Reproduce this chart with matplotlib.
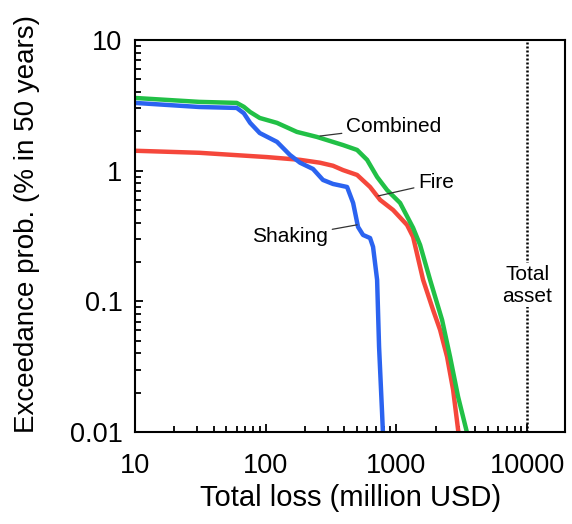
import numpy as np
import matplotlib
matplotlib.use("Agg")
import matplotlib.pyplot as plt

plt.rcParams['font.family'] = ['Liberation Sans', 'DejaVu Sans']

# values (loss in million USD, prob. in %)
combined_loss = [10, 31, 60, 68, 76, 90, 122, 173, 247, 390, 500, 596, 711,
                 847, 1066, 1340, 1516, 1807, 2233, 2570, 2960, 3470]
combined_prob = [3.6, 3.36, 3.30, 3.08, 2.81, 2.53, 2.32, 1.98, 1.81, 1.57,
                 1.44, 1.21, 0.895, 0.711, 0.566, 0.365, 0.27, 0.146, 0.072,
                 0.0376, 0.0186, 0.0098]

shaking_loss = [10, 31, 60, 68, 76, 90, 122, 153, 183, 230, 274, 327, 419,
                466, 508, 555, 628, 662, 711, 736, 776, 795]
shaking_prob = [3.30, 3.07, 3.02, 2.75, 2.32, 1.94, 1.66, 1.32, 1.15, 1.03,
                0.849, 0.791, 0.75, 0.566, 0.371, 0.322, 0.305, 0.261, 0.146,
                0.0448, 0.014, 0.008]

fire_loss = [10, 31, 102, 183, 260, 327, 390, 500, 628, 750, 942, 1205, 1340,
             1598, 1905, 2156, 2438, 2712, 2960, 3100]
fire_prob = [1.42, 1.37, 1.27, 1.21, 1.15, 1.09, 1.01, 0.927, 0.75, 0.597,
             0.50, 0.384, 0.311, 0.146, 0.0859, 0.0604, 0.0376, 0.021,
             0.0104, 0.008]

total_asset = 10000

fig = plt.figure(figsize=(5.72, 5.24), dpi=100)
ax = fig.add_axes([0.236, 0.1756, 0.752, 0.7481])

ax.plot(fire_loss, fire_prob, color='#f5473b', lw=3.2, solid_capstyle='butt')
ax.plot(combined_loss, combined_prob, color='#21c046', lw=3.2, solid_capstyle='butt')
ax.plot(shaking_loss, shaking_prob, color='#2b63f0', lw=3.2, solid_capstyle='butt')

ax.axvline(total_asset, color='black', lw=1.8, ls=(0, (0.8, 0.8)))

ax.set_xscale('log')
ax.set_yscale('log')
ax.set_xlim(10, 19500)
ax.set_ylim(0.01, 10)

ax.set_xticks([10, 100, 1000, 10000])
ax.set_xticklabels(['10', '100', '1000', '10000'])
ax.set_yticks([0.01, 0.1, 1, 10])
ax.set_yticklabels(['0.01', '0.1', '1', '10'])

for s in ax.spines.values():
    s.set_linewidth(1.5)
ax.tick_params(which='both', direction='in', top=False, right=False, width=1.3)
ax.tick_params(which='major', length=6, labelsize=19.5)
ax.tick_params(axis='x', which='major', pad=15)
ax.tick_params(axis='y', which='major', pad=9)
ax.tick_params(which='minor', length=4)

ax.set_xlabel('Total loss (million USD)', fontsize=21)
ax.set_ylabel('Exceedance prob. (% in 50 years)', fontsize=20)
ax.xaxis.set_label_coords(0.5, -0.132)
ax.yaxis.set_label_coords(-0.222, 0.53)

line_kw = dict(arrowstyle='-', color='#333333', lw=0.9, shrinkA=1, shrinkB=0)
ax.annotate('Combined', xy=(260, 1.84), xytext=(411, 2.16), fontsize=15,
            ha='left', va='center', arrowprops=line_kw)
ax.annotate('Fire', xy=(723, 0.64), xytext=(1462, 0.806), fontsize=15,
            ha='left', va='center', arrowprops=line_kw)
ax.annotate('Shaking', xy=(500, 0.385), xytext=(300, 0.311), fontsize=15,
            ha='right', va='center', arrowprops=line_kw)

ax.text(total_asset, 0.133, 'Total\nasset', fontsize=15, ha='center',
        va='center', linespacing=1.2,
        bbox=dict(facecolor='white', edgecolor='none', pad=1))

fig.savefig('out.png', dpi=100)
